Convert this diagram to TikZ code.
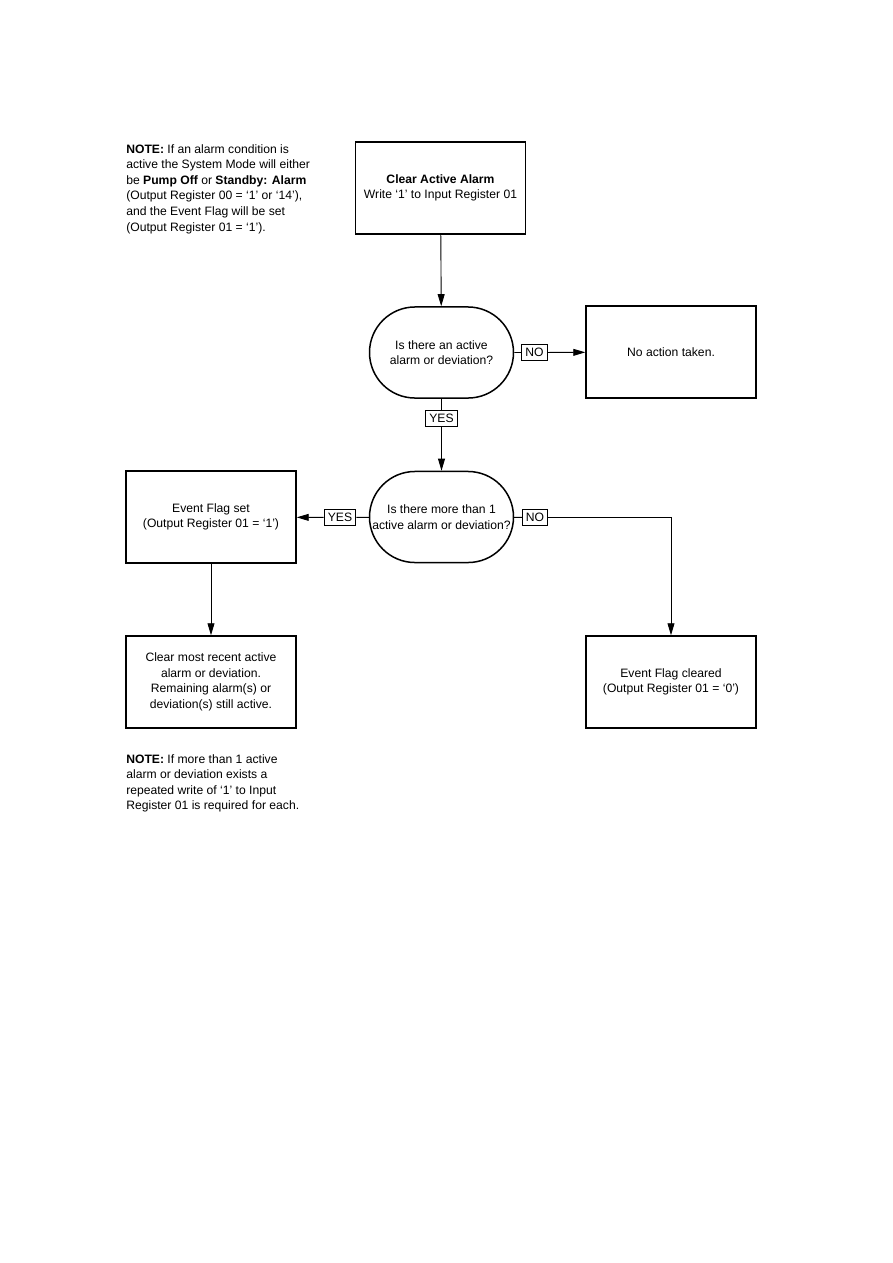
\documentclass[tikz,border=0pt]{standalone}
\usepackage{fontspec}
\setmainfont{Liberation Sans}
\usetikzlibrary{arrows.meta,shapes.misc}
\begin{document}
\begin{tikzpicture}[x=0.6667pt,y=-0.6667pt,
  stepbox/.style={rectangle,draw,line width=1pt,minimum width=113.3pt,
                  minimum height=61.3pt,align=center,inner sep=2pt},
  query/.style={rounded rectangle,draw,line width=1pt,minimum width=98pt,
                minimum height=60.7pt,align=center,inner sep=1pt},
  answer/.style={rectangle,draw,fill=white,line width=0.7pt,inner xsep=2.4pt,
                 inner ysep=2.2pt},
  flow/.style={line width=0.6pt,-{Triangle[length=8pt,width=4.6pt]}},
  link/.style={line width=0.6pt},
  remark/.style={anchor=north west,align=left,inner sep=0pt},
  every node/.style={font=\fontsize{8.1}{10.4}\selectfont}]
\path[use as bounding box] (0,0) rectangle (893,1263);
% top of the chart
\node[stepbox] (clear) at (440.5,188) {\textbf{Clear Active Alarm}\\Write ‘1’ to Input Register 01};
\node[query] (anyactive) at (441.5,352.5) {Is there an active\\alarm or deviation?};
\node[stepbox] (noaction) at (671,352) {No action taken.};
\node[answer] (no1) at (534.5,352.5) {NO};
\node[answer] (yes1) at (441.5,418.5) {YES};
% second question
\node[query] (several) at (441.5,517) {Is there more than 1\\active alarm or deviation?};
\node[stepbox] (flagset) at (211,517) {Event Flag set\\(Output Register 01 = ‘1’)};
\node[answer] (yes2) at (340,517.5) {YES};
\node[answer] (no2) at (535,517.5) {NO};
\coordinate (bend) at (671,517.5);
\node[stepbox] (recent) at (211,682) {Clear most recent active\\alarm or deviation.\\Remaining alarm(s) or\\deviation(s) still active.};
\node[stepbox] (flagclear) at (671,682) {Event Flag cleared\\(Output Register 01 = ‘0’)};
% connectors
\draw[flow] (clear) -- (anyactive);
\draw[link] (anyactive) -- (no1);
\draw[flow] (no1) -- (noaction);
\draw[link] (anyactive) -- (yes1);
\draw[flow] (yes1) -- (several);
\draw[link] (several) -- (yes2);
\draw[flow] (yes2) -- (flagset);
\draw[link] (several) -- (no2);
\draw[flow] (no2) -- (bend) -- (flagclear);
\draw[flow] (flagset) -- (recent);
% notes
\node[remark] (note1) at (126,144) {\textbf{NOTE:} If an alarm condition is\\active the System Mode will either\\be \textbf{Pump Off} or \textbf{Standby: Alarm}\\(Output Register 00 = ‘1’ or ‘14’),\\and the Event Flag will be set\\(Output Register 01 = ‘1’).};
\node[remark] (note2) at (126,754) {\textbf{NOTE:} If more than 1 active\\alarm or deviation exists a\\repeated write of ‘1’ to Input\\Register 01 is required for each.};
\end{tikzpicture}
\end{document}
